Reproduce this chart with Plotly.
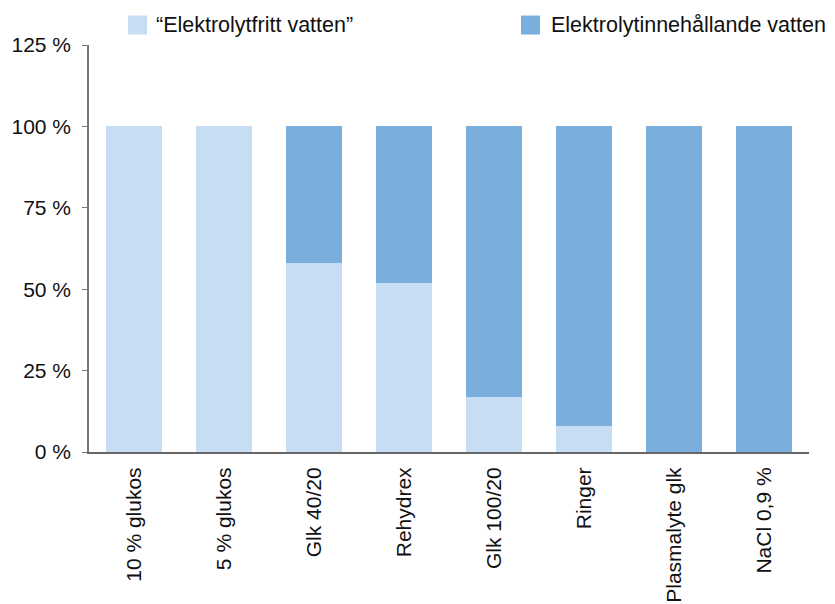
import plotly.graph_objects as go

categories = ["10 % glukos", "5 % glukos", "Glk 40/20", "Rehydrex", "Glk 100/20",
              "Ringer", "Plasmalyte glk", "NaCl 0,9 %"]
free_water = [100, 100, 58, 52, 17, 8, 0, 0]
electrolyte_water = [0, 0, 42, 48, 83, 92, 100, 100]
series_names = ["\u201cElektrolytfritt vatten\u201d", "Elektrolytinnehållande vatten"]
series_colors = ["#c7ddf3", "#7aaedc"]
y_ticks = [0, 25, 50, 75, 100, 125]
y_tick_labels = ["0 %", "25 %", "50 %", "75 %", "100 %", "125 %"]

FONT = "Liberation Sans, Arial, Helvetica, sans-serif"

L, R, T, B = 89, 26, 44.5, 151.5
PW, PH = 835 - L - R, 604 - T - B

fig = go.Figure()
for name, vals, col in zip(series_names, [free_water, electrolyte_water], series_colors):
    fig.add_trace(go.Bar(x=categories, y=vals, name=name, marker_color=col,
                         marker_line_width=0, showlegend=False))

# legend drawn as squares + text
legend_pos = [(128, 154), (521, 549)]
for (sx, tx), name, col in zip(legend_pos, series_names, series_colors):
    fig.add_shape(type="rect", xref="paper", yref="paper",
                  x0=(sx - L) / PW, x1=(sx + 19 - L) / PW,
                  y0=(604 - B - 34) / PH, y1=(604 - B - 15) / PH,
                  fillcolor=col, line_width=0, layer="above")
    fig.add_annotation(xref="paper", yref="paper", x=(tx - L) / PW,
                       y=(604 - B - 24.5) / PH, text=name, showarrow=False,
                       xanchor="left", yanchor="middle",
                       font=dict(family=FONT, size=21.5, color="#111111"))

fig.update_layout(
    barmode="stack", bargap=0.37,
    width=835, height=604,
    margin=dict(l=L, r=R, t=T, b=B, autoexpand=False),
    paper_bgcolor="white", plot_bgcolor="white",
    font=dict(family=FONT, size=21, color="#111111"),
    xaxis=dict(range=[-0.5, 7.5], tickangle=-90, showline=True, linecolor="#666666",
               linewidth=2, ticks="", showgrid=False, ticklabelstandoff=5,
               automargin=False),
    yaxis=dict(range=[0, 125], tickvals=y_ticks, ticktext=y_tick_labels,
               showline=True, linecolor="#777777", linewidth=1.5, ticks="outside",
               ticklen=5, tickcolor="#777777", showgrid=False, zeroline=False,
               ticklabelstandoff=7, automargin=False),
)

fig.write_html("out.html")
